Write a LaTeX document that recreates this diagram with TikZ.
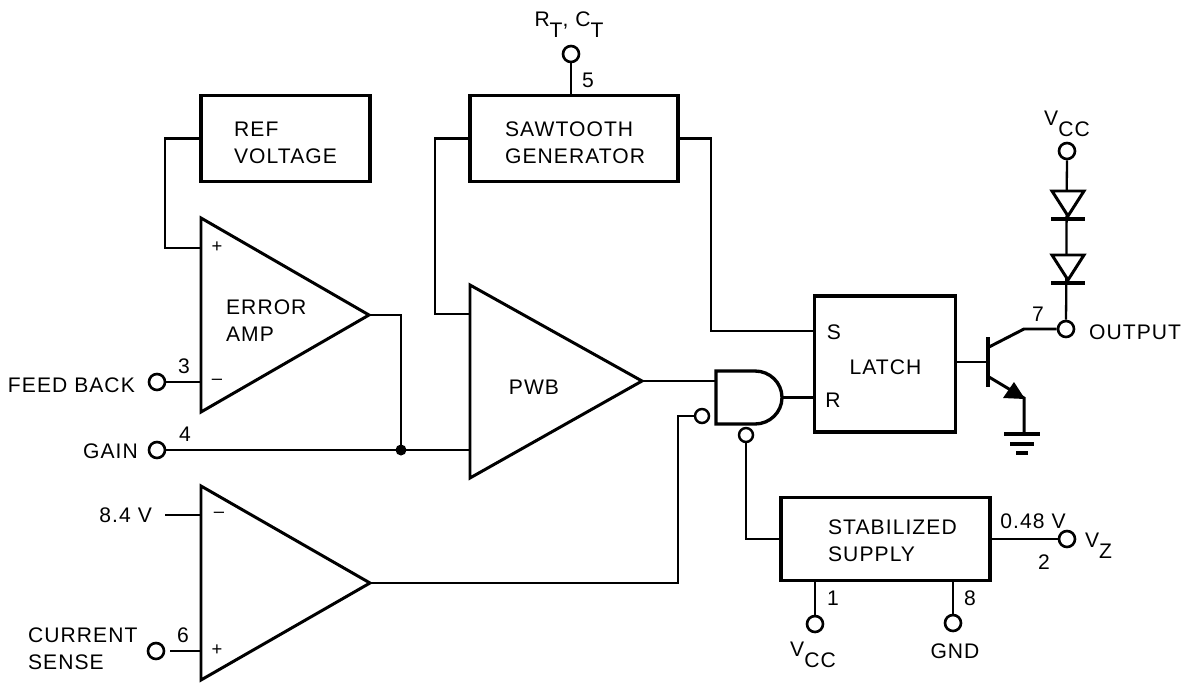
\documentclass[tikz,border=0pt]{standalone}
\usepackage{fontspec}
\setmainfont[LetterSpace=5]{Liberation Sans}
\newcommand{\lowsub}[1]{\raisebox{-1ex}{#1}}
\begin{document}
\begin{tikzpicture}[
  x=0.02cm, y=-0.02cm, line width=1.3pt, font=\fontsize{12}{15.5}\selectfont,
  box/.style={draw, line width=2.1pt, align=center, inner sep=0pt},
  tri/.style={draw, line width=1.7pt, line join=miter},
  pin/.style={draw, circle, line width=1.5pt, fill=white, minimum size=0.32cm, inner sep=0pt},
  bubble/.style={draw, circle, line width=1.4pt, fill=white, minimum size=0.28cm, inner sep=0pt},
  dot/.style={fill, circle, minimum size=0.22cm, inner sep=0pt},
  lbl/.style={inner sep=0pt, align=left},
  sign/.style={inner sep=0pt, font=\fontsize{10.5}{10.5}\selectfont}
]
\useasboundingbox (0,0) rectangle (1191,683);

%% Blocks
\node[box, minimum width=3.38cm, minimum height=1.72cm] (ref) at (285.5,138.5) {};
\node[lbl, anchor=west] at (233,143) {REF\\VOLTAGE};
\node[box, minimum width=4.16cm, minimum height=1.72cm] (saw) at (574,138.5) {};
\node[lbl, anchor=west] at (504,143) {SAWTOOTH\\GENERATOR};
\node[box, minimum width=2.82cm, minimum height=2.72cm] (latch) at (885,364) {};
\node[lbl] at (885.5,367) {LATCH};
\node[lbl] (sin) at (834,332) {S};
\node[lbl] (rin) at (833,400) {R};
\node[box, minimum width=4.18cm, minimum height=1.66cm] (supply) at (885.5,539) {};
\node[lbl, anchor=west] at (827,541) {STABILIZED\\SUPPLY};

%% Amplifiers
\coordinate (errtop) at (201,218);
\coordinate (errbot) at (201,412);
\coordinate (errout) at (369,315);
\draw[tri] (errtop) -- (errout) -- (errbot) -- cycle;
\node[lbl, anchor=west] at (225,321) {ERROR\\AMP};
\node[sign] at (217,247) {+};
\node[sign] at (217,382) {--};

\coordinate (pwbtop) at (470,285);
\coordinate (pwbbot) at (470,478);
\coordinate (pwbout) at (642,381);
\draw[tri] (pwbtop) -- (pwbout) -- (pwbbot) -- cycle;
\node[lbl] at (534,387) {PWB};

\coordinate (cmptop) at (201,486);
\coordinate (cmpbot) at (201,680);
\coordinate (cmpout) at (370,583);
\draw[tri] (cmptop) -- (cmpout) -- (cmpbot) -- cycle;
\node[sign] at (219,515) {--};
\node[sign] at (217,650) {+};

%% Gate
\draw[tri, line width=1.9pt] (755,371) -- (716,371) -- (716,424) -- (755,424) arc (-90:90:27 and -26.5);
\coordinate (gatein) at (716,381);
\coordinate (gateout) at (783,397.5);
\node[bubble] (invb) at (702,416) {};
\node[bubble] (invc) at (746,435) {};

%% Terminals
\node[pin] (rtct) at (571,54) {};
\node[pin] (fb) at (157,382) {};
\node[pin] (gain) at (157,450) {};
\node[pin] (sense) at (156,651) {};
\node[pin] (vcc) at (1067,151) {};
\node[pin] (out) at (1066,329) {};
\node[pin] (vz) at (1067,539) {};
\node[pin] (vs) at (815,624) {};
\node[pin] (gnd) at (953,623) {};
\coordinate (vin) at (165,515);

%% Terminal labels
\node[lbl] at (569,25) {R\lowsub{T}, C\lowsub{T}};
\node[lbl] at (588,80) {5};
\node[lbl, anchor=east] at (136,385) {FEED BACK};
\node[lbl] at (184,366) {3};
\node[lbl, anchor=east] at (139,451) {GAIN};
\node[lbl] at (185,434) {4};
\node[lbl, anchor=east] at (153,515) {8.4 V};
\node[lbl, anchor=west] at (27,649) {CURRENT\\SENSE};
\node[lbl] at (183,635) {6};
\node[lbl] at (1067,124) {V\lowsub{CC}};
\node[lbl] at (1038,314) {7};
\node[lbl, anchor=west] at (1088,332) {OUTPUT};
\node[lbl] at (1033,521) {0.48 V};
\node[lbl] at (1044,562) {2};
\node[lbl, anchor=west] at (1084,546) {V\lowsub{Z}};
\node[lbl] at (833,598) {1};
\node[lbl] at (970,598) {8};
\node[lbl] at (813,655) {V\lowsub{CC}};
\node[lbl] at (955,651) {GND};

%% Wiring
\draw (rtct) -- (saw.north -| rtct);
\draw (ref.west) -| (165,248) -- (errtop |- 0,248);
\draw (saw.west) -| (435,314) -- (pwbtop |- 0,314);
\draw (saw.east) -| (711,331) -- (latch.west |- 0,331);
\draw (fb) -- (errbot |- fb);
\draw (gain) -- (pwbbot |- gain);
\draw (errout) -| (401,450) node[dot] (junc) {};
\draw (pwbout) -- (gatein |- pwbout);
\draw (gateout) -- (latch.west |- gateout);
\draw (cmpout) -| (678,416) -- (invb);
\draw (invc) |- (supply.west);
\draw (vin) -- (cmptop |- vin);
\draw[shorten <=0.1cm] (sense) -- (cmpbot |- sense);
\draw (supply.east) -- (vz);
\draw (vs) -- (supply.south -| vs);
\draw (gnd) -- (supply.south -| gnd);

%% Diodes
\draw (vcc) -- (out);
\foreach \y in {191, 255}{
  \draw[line width=1.7pt, fill=white] (1052,\y) -- (1084,\y) -- (1068,\y+25) -- cycle;
  \draw[line width=2.3pt] (1051,\y+28) -- (1085,\y+28);
}

%% Transistor
\draw (latch.east |- 0,362) -- (988,362);
\draw[line width=2.6pt] (988,337) -- (988,387);
\draw[line width=1.7pt] (989,347) -- (1024,329) -- (out);
\draw[line width=1.7pt] (989,377) -- (1024,398) -- (1024,433);
\fill (1025,399) -- (1003,398) -- (1014,382) -- cycle;
\foreach \w/\y in {18/434, 12/444, 6/453}{
  \draw[line width=2.1pt] (1022-\w,\y) -- (1022+\w,\y);
}

\end{tikzpicture}
\end{document}
